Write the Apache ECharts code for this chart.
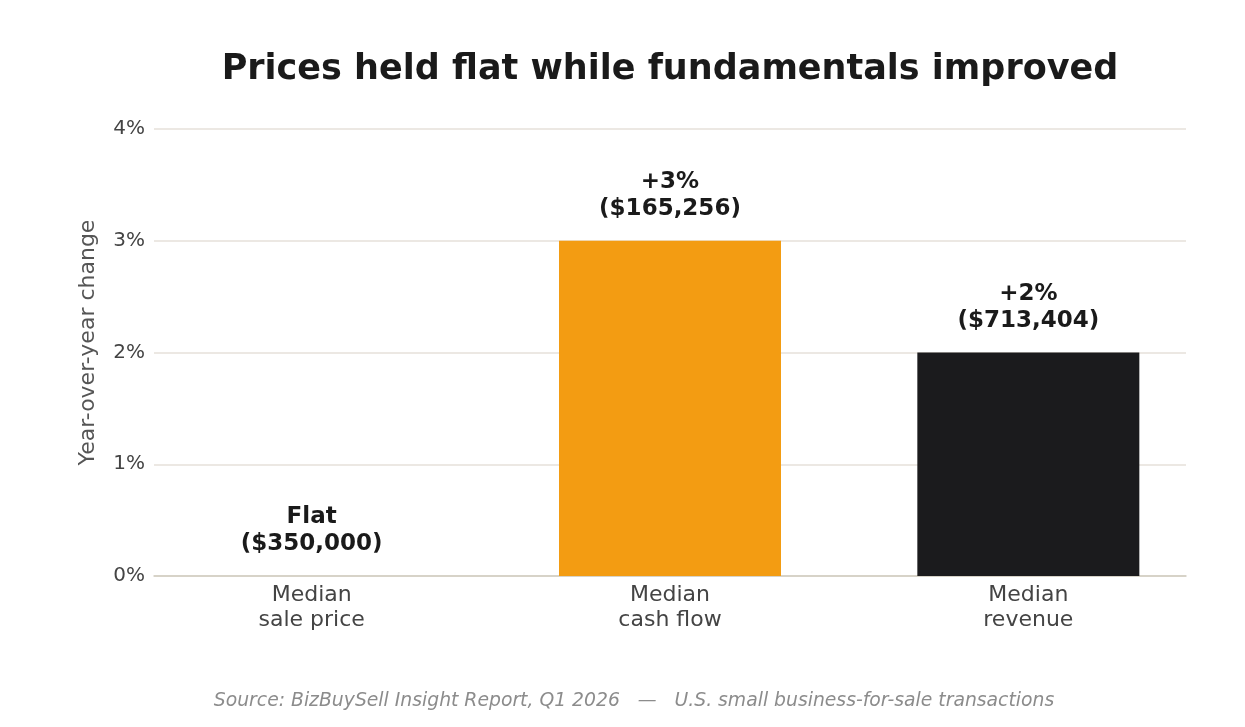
<!DOCTYPE html>
<html>
<head>
<meta charset="utf-8">
<script src="https://cdn.jsdelivr.net/npm/echarts@6/dist/echarts.min.js"></script>
<style>
html,body{margin:0;padding:0;background:#fff;}
#chart{width:1245px;height:727px;}
</style>
</head>
<body>
<div id="chart"></div>
<script>
const categories = ["Median\nsale price", "Median\ncash flow", "Median\nrevenue"];
const values = [0, 3, 2];
const valueLabels = ["Flat\n($350,000)", "+3%\n($165,256)", "+2%\n($713,404)"];
const barColors = ["#f39c12", "#f39c12", "#1b1b1d"];
const yTicks = [0, 1, 2, 3, 4];

const chart = echarts.init(document.getElementById('chart'));
const FONT = "'DejaVu Sans', sans-serif";
chart.setOption({
  animation: false,
  backgroundColor: '#ffffff',
  title: [{
    text: 'Prices held flat while fundamentals improved',
    left: 665, top: 47, textAlign: 'center',
    textStyle: {fontFamily: FONT, fontSize: 35, fontWeight: 'bold', color: '#1a1a1a'}
  }, {
    text: 'Source: BizBuySell Insight Report, Q1 2026   \u2014   U.S. small business-for-sale transactions',
    left: 629, top: 687, textAlign: 'center',
    textStyle: {fontFamily: FONT, fontSize: 18.8, fontStyle: 'italic', fontWeight: 'normal', color: '#8c8c8c'}
  }],
  grid: {left: 154, right: 59, top: 129, bottom: 151},
  xAxis: {
    type: 'value', min: -0.44, max: 2.44,
    splitLine: {show: false},
    axisLine: {show: true, onZero: false, lineStyle: {color: '#cfcbc0', width: 1.5}},
    axisTick: {show: false},
    axisLabel: {
      customValues: [0, 1, 2],
      formatter: v => categories[Math.round(v)] || '',
      fontFamily: FONT, fontSize: 22, color: '#444444', lineHeight: 25, margin: 7
    }
  },
  yAxis: {
    type: 'value', min: 0, max: 4, interval: 1,
    name: 'Year-over-year change', nameLocation: 'middle', nameGap: 55,
    nameTextStyle: {fontFamily: FONT, fontSize: 22, color: '#555555', padding: [0, 0, 0, 20]},
    axisLine: {show: false}, axisTick: {show: false},
    splitLine: {show: true, lineStyle: {color: '#e6e1da', width: 1.5}},
    axisLabel: {formatter: v => v + '%', fontFamily: FONT, fontSize: 20, color: '#444444', margin: 9, padding: [4, 0, 0, 0]},
  },
  series: [{
    type: 'bar',
    barWidth: 222,
    data: values.map((v, i) => ({value: [i, v], itemStyle: {color: barColors[i]}})),
    label: {
      show: true, position: 'top', distance: 18,
      formatter: p => valueLabels[p.dataIndex],
      fontFamily: FONT, fontSize: 23, fontWeight: 'bold', color: '#1a1a1a', lineHeight: 27, align: 'center'
    }
  }]
});
</script>
</body>
</html>
